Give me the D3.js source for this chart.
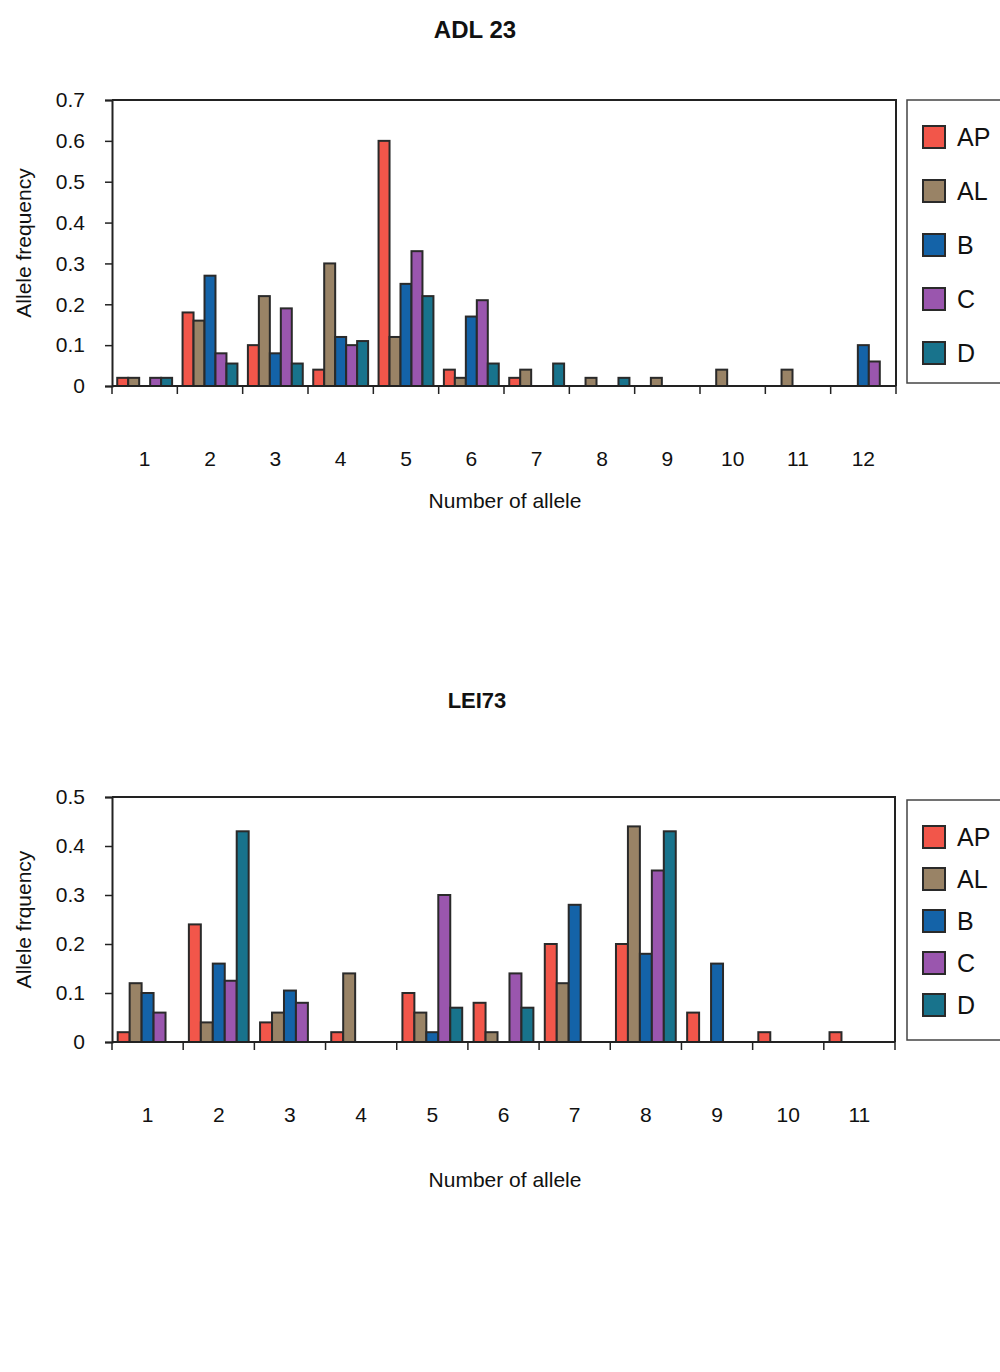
<!DOCTYPE html>
<html>
<head>
<meta charset="utf-8">
<script src="https://cdn.jsdelivr.net/npm/d3@7"></script>
<style>
  html, body { margin: 0; padding: 0; background: #ffffff; }
  svg { display: block; font-family: "Liberation Sans", Arial, sans-serif; }
</style>
</head>
<body>
<svg id="chart" width="1000" height="1372"></svg>
<script>
// ---------- DATA ----------
const seriesNames = ["AP", "AL", "B", "C", "D"];
const seriesColors = ["#f2564a", "#998366", "#1463a8", "#9a56ae", "#18738c"];

// Chart 1: ADL 23
const adlCategories = ["1","2","3","4","5","6","7","8","9","10","11","12"];
const adlAP = [0.02, 0.18, 0.10, 0.04, 0.60, 0.04, 0.02, 0,    0,    0,    0,    0];
const adlAL = [0.02, 0.16, 0.22, 0.30, 0.12, 0.02, 0.04, 0.02, 0.02, 0.04, 0.04, 0];
const adlB  = [0,    0.27, 0.08, 0.12, 0.25, 0.17, 0,    0,    0,    0,    0,    0.10];
const adlC  = [0.02, 0.08, 0.19, 0.10, 0.33, 0.21, 0,    0,    0,    0,    0,    0.06];
const adlD  = [0.02, 0.055,0.055,0.11, 0.22, 0.055,0.055,0.02, 0,    0,    0,    0];
const adlTicks = [0, 0.1, 0.2, 0.3, 0.4, 0.5, 0.6, 0.7];

// Chart 2: LEI73
const leiCategories = ["1","2","3","4","5","6","7","8","9","10","11"];
const leiAP = [0.02, 0.24, 0.04, 0.02, 0.10, 0.08, 0.20, 0.20, 0.06, 0.02, 0.02];
const leiAL = [0.12, 0.04, 0.06, 0.14, 0.06, 0.02, 0.12, 0.44, 0,    0,    0];
const leiB  = [0.10, 0.16, 0.105,0,    0.02, 0,    0.28, 0.18, 0.16, 0,    0];
const leiC  = [0.06, 0.125,0.08, 0,    0.30, 0.14, 0,    0.35, 0,    0,    0];
const leiD  = [0,    0.43, 0,    0,    0.07, 0.07, 0,    0.43, 0,    0,    0];
const leiTicks = [0, 0.1, 0.2, 0.3, 0.4, 0.5];

// ---------- DRAW ----------
const svg = d3.select("#chart");

function drawChart(cfg) {
  const g = svg.append("g");
  const x = d3.scaleBand().domain(cfg.categories).range([cfg.left, cfg.right])
    .paddingInner(0.16).paddingOuter(0.08);
  const xs = d3.scaleBand().domain(seriesNames).range([0, x.bandwidth()]);
  const y = d3.scaleLinear().domain([0, cfg.max]).range([cfg.bottom, cfg.top]);
  const step = x.step();

  // title
  g.append("text").attr("x", cfg.titleX).attr("y", cfg.titleY)
    .attr("text-anchor", "middle").attr("font-size", cfg.titleSize).attr("font-weight", "bold")
    .attr("fill", "#111").text(cfg.title);

  // plot frame (top and right)
  g.append("path")
    .attr("d", `M${cfg.left},${cfg.top}H${cfg.right}V${cfg.bottom}`)
    .attr("fill", "none").attr("stroke", "#222").attr("stroke-width", 2);

  // bars
  cfg.values.forEach((vals, si) => {
    g.append("g").selectAll("rect").data(vals.map((v, i) => ({ c: cfg.categories[i], v })))
      .join("rect")
      .attr("x", d => x(d.c) + xs(seriesNames[si]))
      .attr("width", xs.bandwidth())
      .attr("y", d => y(d.v))
      .attr("height", d => cfg.bottom - y(d.v))
      .attr("fill", seriesColors[si])
      .attr("stroke", d => d.v > 0 ? "#2a2a2a" : "none")
      .attr("stroke-width", 2);
  });

  // y axis
  const yAxis = d3.axisLeft(y).tickValues(cfg.ticks).tickSize(7).tickPadding(20)
    .tickFormat(d => d === 0 ? "0" : d3.format(".1f")(d));
  const ya = g.append("g").attr("transform", `translate(${cfg.left},0)`).call(yAxis);
  ya.select(".domain").attr("stroke", "#222").attr("stroke-width", 2);
  ya.selectAll(".tick line").attr("stroke", "#222").attr("stroke-width", 1.5);
  ya.selectAll(".tick text").attr("font-size", 21).attr("fill", "#111")
    .attr("font-family", "Liberation Sans, Arial, sans-serif");

  // x axis line + boundary ticks
  g.append("line").attr("x1", cfg.left).attr("x2", cfg.right)
    .attr("y1", cfg.bottom).attr("y2", cfg.bottom).attr("stroke", "#222").attr("stroke-width", 2);
  const boundaries = cfg.categories.map((c, i) => cfg.left + i * step).concat([cfg.right]);
  g.append("g").selectAll("line").data(boundaries).join("line")
    .attr("x1", d => d).attr("x2", d => d)
    .attr("y1", cfg.bottom).attr("y2", cfg.bottom + 8)
    .attr("stroke", "#222").attr("stroke-width", 1.5);
  g.append("g").selectAll("text").data(cfg.categories).join("text")
    .attr("x", d => x(d) + x.bandwidth() / 2)
    .attr("y", cfg.bottom + 80)
    .attr("text-anchor", "middle").attr("font-size", 21).attr("fill", "#111")
    .text(d => d);

  // axis titles
  g.append("text").attr("x", cfg.xTitleX).attr("y", cfg.xTitleY)
    .attr("text-anchor", "middle").attr("font-size", 21).attr("fill", "#111").text(cfg.xTitle);
  g.append("text")
    .attr("transform", `translate(${cfg.yTitleX},${(cfg.top + cfg.bottom) / 2}) rotate(-90)`)
    .attr("text-anchor", "middle").attr("font-size", 21).attr("fill", "#111").text(cfg.yTitle);

  // legend
  const lg = g.append("g");
  lg.append("rect").attr("x", 907).attr("y", cfg.legTop).attr("width", 120).attr("height", cfg.legH)
    .attr("fill", "#fff").attr("stroke", "#444").attr("stroke-width", 1.5);
  seriesNames.forEach((s, i) => {
    const cy = cfg.legFirst + i * cfg.legStep;
    lg.append("rect").attr("x", 923).attr("y", cy - 11).attr("width", 22).attr("height", 22)
      .attr("fill", seriesColors[i]).attr("stroke", "#2a2a2a").attr("stroke-width", 2);
    lg.append("text").attr("x", 957).attr("y", cy + 9).attr("font-size", 25)
      .attr("fill", "#111").text(s);
  });
}

drawChart({
  title: "ADL 23", titleX: 475, titleY: 38, titleSize: 24,
  categories: adlCategories,
  values: [adlAP, adlAL, adlB, adlC, adlD],
  ticks: adlTicks, max: 0.7,
  left: 112, right: 896, top: 100, bottom: 386,
  xTitle: "Number of allele", xTitleX: 505, xTitleY: 508,
  yTitle: "Allele frequency", yTitleX: 31,
  legTop: 100, legH: 283, legFirst: 137, legStep: 54
});

drawChart({
  title: "LEI73", titleX: 477, titleY: 708, titleSize: 22,
  categories: leiCategories,
  values: [leiAP, leiAL, leiB, leiC, leiD],
  ticks: leiTicks, max: 0.5,
  left: 112, right: 895, top: 797, bottom: 1042,
  xTitle: "Number of allele", xTitleX: 505, xTitleY: 1187,
  yTitle: "Allele frquency", yTitleX: 31,
  legTop: 800, legH: 240, legFirst: 837, legStep: 42
});
</script>
</body>
</html>
